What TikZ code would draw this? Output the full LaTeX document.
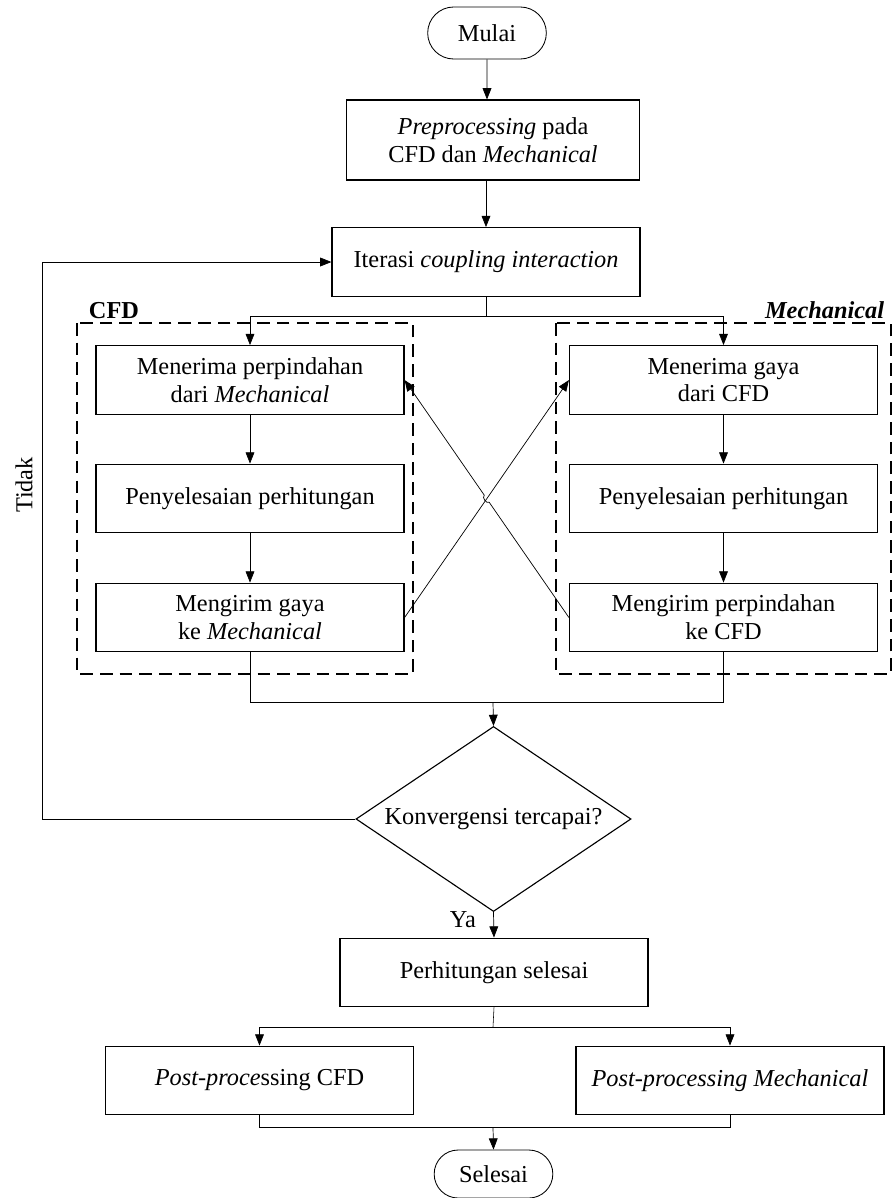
\documentclass[tikz,border=0pt]{standalone}
\usepackage{fontspec}
\setmainfont{Liberation Serif}
\usetikzlibrary{shapes.geometric,shapes.misc,arrows.meta,calc}
\tikzset{
  every node/.style={font=\fontsize{17.3}{19.8}\selectfont},
  box/.style={draw, line width=0.8pt, rectangle, align=center, inner sep=2pt,
    minimum width=7.7cm, minimum height=1.72cm},
  term/.style={draw, line width=0.6pt, rounded rectangle, minimum width=3.2cm, minimum height=1.3cm},
  decision/.style={draw, line width=0.8pt, diamond, aspect=1.49, inner sep=0pt,
    minimum width=6.875cm, minimum height=4.625cm},
  conn/.style={-{Triangle[length=0.28cm,width=0.22cm]}, line width=0.5pt},
  grp/.style={draw, line width=0.9pt, dash pattern=on 9pt off 5pt}
}
\begin{document}
\begin{tikzpicture}[x=0.025cm, y=-0.025cm]
  \useasboundingbox (0,0) rectangle (892,1198);
  % main column
  \node[term] (mulai) at (487,33) {Mulai};
  \node[box, minimum width=7.33cm, minimum height=2cm] (pre) at (493,140) {\textit{Preprocessing} pada\\CFD dan \textit{Mechanical}};
  \node[box] (iter) at (486,262) {Iterasi \textit{coupling interaction}};
  % CFD group
  \draw[grp] (77,323) rectangle (413,674);
  \node[anchor=base west, font=\fontsize{17.3}{19.8}\selectfont\bfseries] (cfdlbl) at (84,318) {CFD};
  \node[box] (menP) at (250,380) {Menerima perpindahan\\dari \textit{Mechanical}};
  \node[box] (penL) at (250,498.5) {Penyelesaian perhitungan};
  \node[box] (kirG) at (250,617.5) {Mengirim gaya\\ke \textit{Mechanical}};
  % Mechanical group
  \draw[grp] (556,323) rectangle (891,674);
  \node[anchor=base east, font=\fontsize{17.3}{19.8}\selectfont\bfseries\itshape] (meclbl) at (889,318) {Mechanical};
  \node[box] (menG) at (723.5,380) {Menerima gaya\\dari CFD};
  \node[box] (penR) at (723.5,498.5) {Penyelesaian perhitungan};
  \node[box] (kirP) at (723.5,617.5) {Mengirim perpindahan\\ke CFD};
  % check
  \node[decision] (dec) at (493.5,819) {Konvergensi tercapai?};
  \node[box] (perh) at (494,972.5) {Perhitungan selesai};
  \node[box] (postC) at (259.5,1080.5) {\textit{Post-proce}ssing CFD};
  \node[box] (postM) at (730,1080.5) {\textit{Post-processing Mechanical}};
  \node[term, minimum height=1.2cm] (selesai) at (493.5,1174) {Selesai};
  \node[rotate=90] (tidak) at (24,485) {Tidak};
  \node[anchor=base west] (ya) at (445,927) {Ya};

  \coordinate (split) at (486,316);
  \coordinate (mj) at (493,702);
  \coordinate (ps) at (493,1027);
  \coordinate (pm) at (493,1127);

  \draw[conn] (mulai) -- (mulai |- pre.north);
  \draw[conn] (pre.south -| iter) -- (iter);
  \draw (iter.south) -- (split);
  \draw[conn] (split) -| (menP.north);
  \draw[conn] (split) -| (menG.north);
  \draw[conn] (menP) -- (penL);
  \draw[conn] (penL) -- (kirG);
  \draw[conn] (menG) -- (penR);
  \draw[conn] (penR) -- (kirP);
  % exchange between the two solvers
  \draw[conn] (kirG.east) -- (menG.west);
  \draw[conn] (kirP.west) -- ($(kirP.west)!.485!(menP.east)$)
    to[bend left=90] ($(kirP.west)!.515!(menP.east)$) -- (menP.east);
  \draw (kirG.south) |- (mj);
  \draw (kirP.south) |- (mj);
  \draw[conn] (mj) -- (dec.north);
  \draw[conn] (dec.west) -- ++(-313,0) |- (iter.west);
  \draw[conn] (dec.south) -- (perh.north);
  \draw (perh.south) -- (ps);
  \draw[conn] (ps) -| (postC.north);
  \draw[conn] (ps) -| (postM.north);
  \draw (postC.south) |- (pm);
  \draw (postM.south) |- (pm);
  \draw[conn] (pm) -- (selesai.north);
\end{tikzpicture}
\end{document}
